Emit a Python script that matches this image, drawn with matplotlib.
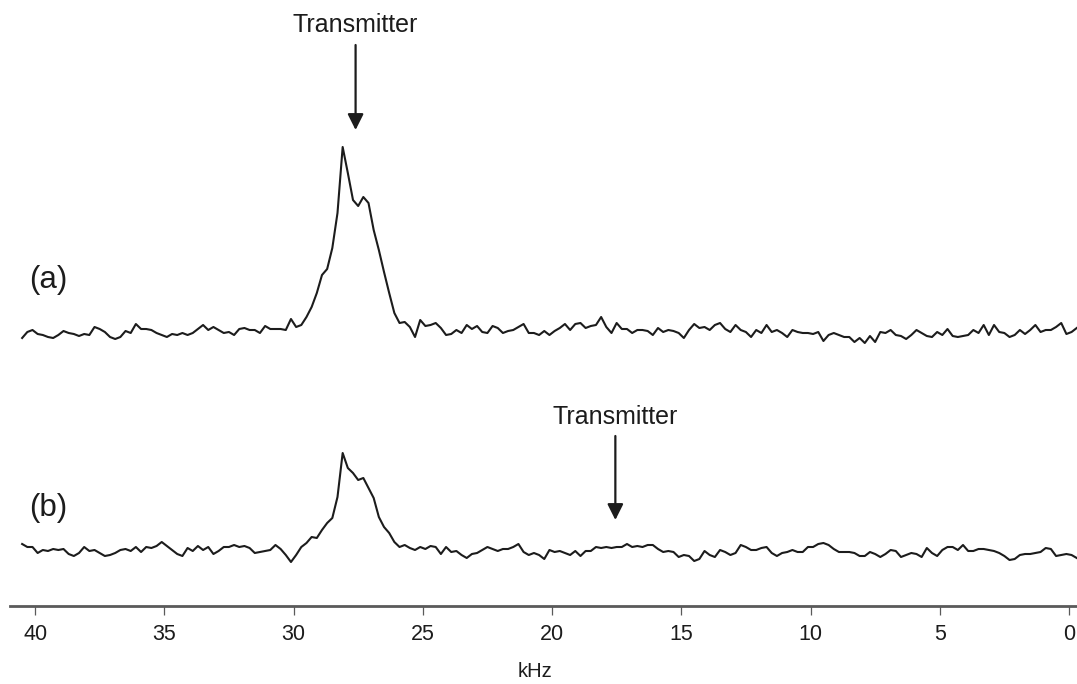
import numpy as np
import matplotlib
matplotlib.use('Agg')
import matplotlib.pyplot as plt

plt.rcParams['font.family'] = ['Liberation Sans', 'DejaVu Sans']

# spectra, 0.2 kHz steps from 40.5 down to -0.3 kHz
spec_a = [
    -5, 1, 3, -1, -2, -4, -5, -2, 2, 0,
    -1, -3, -1, -2, 6, 4, 1, -4, -6, -4,
    2, 0, 9, 4, 4, 3, 0, -2, -4, -1,
    -2, 0, -2, 0, 4, 8, 3, 6, 3, 0,
    1, -2, 4, 5, 3, 3, 0, 7, 4, 4,
    4, 3, 14, 6, 8, 16, 26, 40, 58, 64,
    85, 120, 186, 160, 133, 127, 136, 130, 103, 83,
    61, 40, 20, 10, 11, 6, -4, 13, 7, 8,
    10, 5, -2, -1, 3, 0, 8, 4, 7, 1,
    0, 7, 5, 0, 2, 3, 6, 9, 0, 0,
    -2, 2, -2, 2, 5, 9, 3, 9, 10, 5,
    7, 8, 16, 6, 0, 10, 4, 4, 0, 3,
    3, 2, -2, 5, 1, 3, 2, 0, -5, 3,
    9, 5, 6, 3, 8, 10, 4, 1, 8, 3,
    1, -4, 3, 0, 8, 1, 3, 0, -4, 3,
    1, 0, 0, -1, 1, -8, -2, 0, -2, -4,
    -4, -9, -5, -10, -3, -9, 1, 0, 3, -2,
    -3, -6, -2, 3, 0, -3, -4, 1, -2, 4,
    -3, -4, -3, -2, 3, 0, 8, -2, 8, 1,
    0, -4, -2, 3, -1, 3, 8, 1, 3, 3,
    6, 10, -1, 1, 5,
]
spec_b = [
    4, 1, 1, -5, -2, -3, -1, -2, -1, -6,
    -8, -5, 1, -3, -2, -5, -8, -7, -5, -2,
    -1, -3, 1, -4, 1, 0, 2, 6, 2, -2,
    -6, -8, 0, -3, 2, -2, 1, -6, -3, 1,
    1, 3, 1, 2, 0, -5, -4, -3, -2, 3,
    -1, -7, -14, -7, 1, 5, 11, 10, 18, 25,
    30, 51, 95, 80, 75, 68, 70, 60, 50, 31,
    21, 15, 6, 1, 3, 0, -2, 1, -1, 2,
    1, -6, 1, -4, -3, -7, -10, -6, -5, -2,
    1, -1, -3, -1, -1, 1, 4, -4, -7, -5,
    -7, -11, -2, -4, -3, -5, -7, -3, -8, -3,
    -3, 1, 0, 1, 0, 1, 1, 4, 1, 2,
    1, 3, 3, -1, -4, -3, -4, -9, -7, -8,
    -13, -11, -3, -7, -9, -2, -4, -7, -5, 3,
    1, -2, -2, 0, 1, -5, -8, -5, -4, -2,
    -4, -4, 1, 1, 4, 5, 3, -1, -4, -4,
    -4, -5, -8, -8, -4, -6, -9, -6, -2, -3,
    -9, -7, -5, -6, -9, 0, -5, -8, -2, 1,
    1, -2, 3, -3, -3, -1, -1, -2, -3, -5,
    -8, -12, -11, -7, -6, -6, -5, -4, 0, -1,
    -8, -7, -6, -7, -10,
]
freq_khz = np.linspace(40.5, -0.3, len(spec_a))

# transmitter positions (kHz)
tx_a = 27.6
tx_b = 17.55
tick_vals = [40, 35, 30, 25, 20, 15, 10, 5, 0]

offset_a = 271
offset_b = 56
ink = '#1c1c1c'

fig = plt.figure(figsize=(10.77, 6.84), dpi=100)
ax = fig.add_axes([10 / 1077, 78.5 / 684, 1 - 10 / 1077, 605.5 / 684])

ax.plot(freq_khz, np.array(spec_a) + offset_a, color=ink, lw=1.5, solid_joinstyle='round')
ax.plot(freq_khz, np.array(spec_b) + offset_b, color=ink, lw=1.5, solid_joinstyle='round')

ax.set_xlim(40.97, -0.31)
ax.set_ylim(-1.5, 604)

# labels and transmitter arrows
ax.text(39.5, 324, '(a)', fontsize=22.5, ha='center', va='center', color=ink)
ax.text(39.5, 96, '(b)', fontsize=22.5, ha='center', va='center', color=ink)

ax.text(tx_a, 579, 'Transmitter', fontsize=18, ha='center', va='center', color=ink)
ax.annotate('', xy=(tx_a, 474), xytext=(tx_a, 559),
            arrowprops=dict(arrowstyle='-|>', color=ink, lw=1.6, mutation_scale=24,
                            shrinkA=0, shrinkB=0))
ax.text(tx_b, 187, 'Transmitter', fontsize=18, ha='center', va='center', color=ink)
ax.annotate('', xy=(tx_b, 84), xytext=(tx_b, 168),
            arrowprops=dict(arrowstyle='-|>', color=ink, lw=1.6, mutation_scale=24,
                            shrinkA=0, shrinkB=0))

for s in ['top', 'left', 'right']:
    ax.spines[s].set_visible(False)
ax.spines['bottom'].set_color('#5a5a5a')
ax.spines['bottom'].set_linewidth(2)
ax.set_yticks([])
ax.set_xticks(tick_vals)
ax.set_xticklabels([str(t) for t in tick_vals])
ax.tick_params(axis='x', direction='out', length=6.5, width=0.9, color='#5a5a5a',
               labelsize=15.5, pad=7, labelcolor=ink)
ax.set_xlabel('kHz', fontsize=14.5, labelpad=12, color=ink, x=0.492)

fig.savefig('out.png', dpi=100)
